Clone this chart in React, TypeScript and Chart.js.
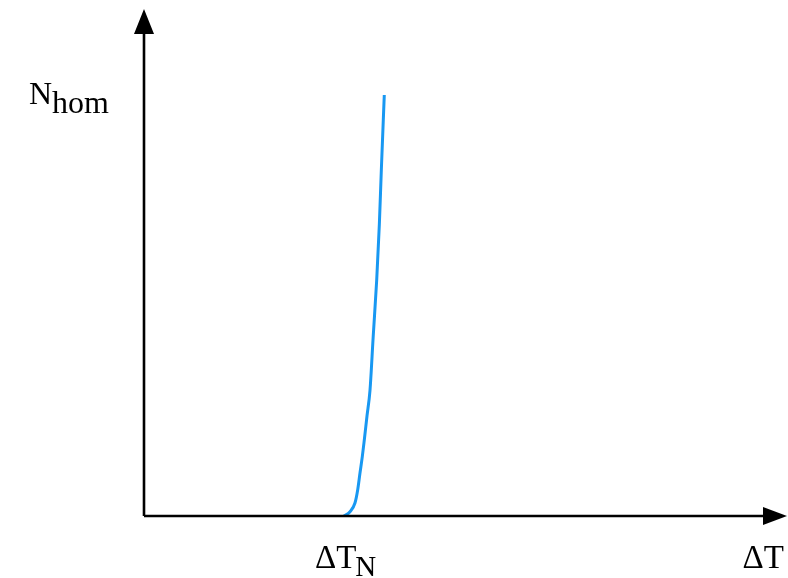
import React, { useEffect, useRef } from "react";
import { Chart, registerables } from "chart.js";

Chart.register(...registerables);

// Curve: homogeneous nucleation rate vs undercooling (arbitrary units)
const curveX = [3.11, 3.204, 3.281, 3.323, 3.359, 3.395, 3.426, 3.468, 3.515, 3.565, 3.619, 3.66, 3.691, 3.737];
const curveY = [0.0, 0.085, 0.256, 0.513, 0.848, 1.17, 1.499, 1.972, 2.485, 3.55, 4.655, 5.75, 6.824, 8.304];
const criticalX = 3.11;
const axisMaxX = 10;
const axisMaxY = 10;
const yLabelMain = "N";
const yLabelSub = "hom";
const xLabel = "ΔT";
const criticalLabelMain = "ΔT";
const criticalLabelSub = "N";

const FONT = "'Liberation Serif', 'Times New Roman', serif";

const axesPlugin = {
  id: "arrowAxes",
  afterDraw(chart: any) {
    const ctx = chart.ctx as CanvasRenderingContext2D;
    const xs = chart.scales.x;
    const ys = chart.scales.y;
    const x0 = xs.getPixelForValue(0);
    const x1 = xs.getPixelForValue(axisMaxX);
    const y0 = ys.getPixelForValue(0);
    const y1 = ys.getPixelForValue(axisMaxY);
    ctx.save();
    ctx.strokeStyle = "#000";
    ctx.fillStyle = "#000";
    ctx.lineWidth = 2.6;
    ctx.beginPath();
    ctx.moveTo(x0, y0);
    ctx.lineTo(x1 - 20, y0);
    ctx.moveTo(x0, y0);
    ctx.lineTo(x0, y1 + 20);
    ctx.stroke();
    // arrows
    ctx.beginPath();
    ctx.moveTo(x1, y0);
    ctx.lineTo(x1 - 24, y0 - 9);
    ctx.lineTo(x1 - 24, y0 + 9);
    ctx.closePath();
    ctx.fill();
    ctx.beginPath();
    ctx.moveTo(x0, y1);
    ctx.lineTo(x0 - 10, y1 + 25);
    ctx.lineTo(x0 + 10, y1 + 25);
    ctx.closePath();
    ctx.fill();

    // labels
    ctx.textBaseline = "alphabetic";
    ctx.textAlign = "left";
    ctx.font = `32px ${FONT}`;
    ctx.fillText(yLabelMain, 29, 104);
    const nW = ctx.measureText(yLabelMain).width;
    ctx.font = `32px ${FONT}`;
    ctx.fillText(yLabelSub, 29 + nW, 113);

    ctx.font = `33px ${FONT}`;
    const cx = xs.getPixelForValue(criticalX);
    const dW = ctx.measureText(criticalLabelMain).width;
    const startX = cx - 29;
    ctx.fillText(criticalLabelMain, startX, 568);
    ctx.font = `29px ${FONT}`;
    ctx.fillText(criticalLabelSub, startX + dW - 1, 576);

    ctx.font = `33px ${FONT}`;
    ctx.textAlign = "right";
    ctx.fillText(xLabel, x1 - 3, 568);
    ctx.restore();
  },
};

export default function App() {
  const ref = useRef<HTMLCanvasElement | null>(null);
  useEffect(() => {
    if (!ref.current) return;
    const chart = new Chart(ref.current, {
      type: "scatter",
      data: {
        datasets: [
          {
            data: curveX.map((x, i) => ({ x, y: curveY[i] })),
            showLine: true,
            borderColor: "#1898F2",
            borderWidth: 3,
            pointRadius: 0,
            cubicInterpolationMode: "monotone",
            fill: false,
          },
        ],
      },
      options: {
        animation: false,
        responsive: false,
        maintainAspectRatio: false,
        layout: { padding: { left: 144, right: 1, top: 9, bottom: 62 } },
        plugins: { legend: { display: false }, tooltip: { enabled: false } },
        scales: {
          x: { type: "linear", min: 0, max: axisMaxX, display: false },
          y: { type: "linear", min: 0, max: axisMaxY, display: false },
        },
      },
      plugins: [axesPlugin],
    });
    return () => chart.destroy();
  }, []);
  return (
    <div style={{ position: "absolute", left: 0, top: 0, width: 788, height: 578, background: "#fff" }}>
      <canvas ref={ref} width={788} height={578} style={{ width: 788, height: 578 }} />
    </div>
  );
}
